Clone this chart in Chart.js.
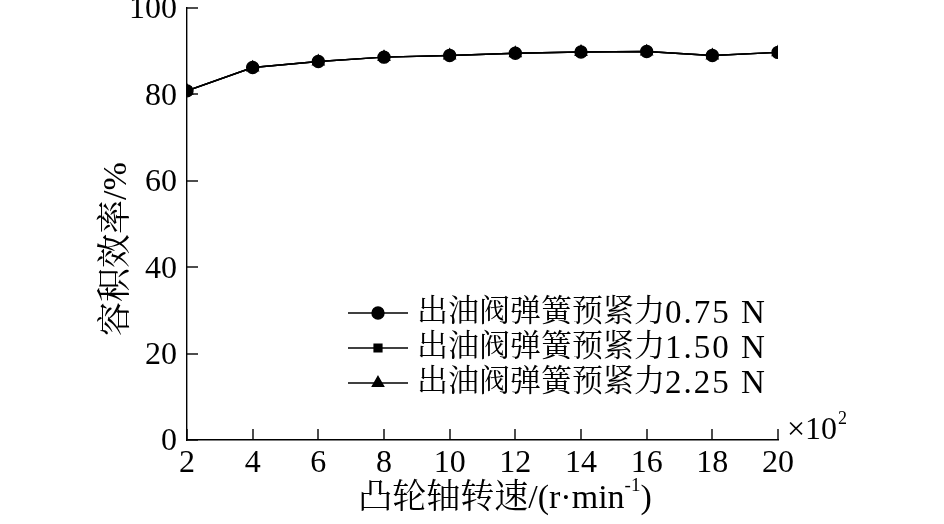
<!DOCTYPE html>
<html>
<head>
<meta charset="utf-8">
<script src="https://cdn.jsdelivr.net/npm/chart.js@4"></script>
<style>
  html, body { margin: 0; padding: 0; background: #fff; }
  #wrap { width: 944px; height: 524px; }
</style>
</head>
<body>
<div id="wrap"><canvas id="myChart" width="944" height="524"></canvas></div>
<script>
const speeds = [2, 4, 6, 8, 10, 12, 14, 16, 18, 20];
const eff075 = [80.8, 86.2, 87.6, 88.6, 89.0, 89.5, 89.8, 89.9, 89.0, 89.7];
const eff150 = [80.8, 86.2, 87.6, 88.6, 89.0, 89.5, 89.8, 89.9, 89.0, 89.7];
const eff225 = [80.8, 86.2, 87.6, 88.6, 89.0, 89.5, 89.8, 89.9, 89.0, 89.7];
const seriesNames = ["出油阀弹簧预紧力0.75 N", "出油阀弹簧预紧力1.50 N", "出油阀弹簧预紧力2.25 N"];
const yTitle = "容积效率/%";
const xTitle = "凸轮轴转速/(r·min";

const serif = '"Liberation Serif", "Noto Serif CJK SC", "Noto Sans CJK SC", serif';

function toPoints(ys) {
    return speeds.map((x, i) => ({ x: x, y: ys[i] }));
}

// inward ticks, axis titles, legend and the x10^2 note
const extras = {
    id: "extras",
    afterDraw(chart) {
        const ctx = chart.ctx;
        const xs = chart.scales.x;
        const ys = chart.scales.y;
        const area = chart.chartArea;
        ctx.save();
        ctx.strokeStyle = "#000";
        ctx.lineWidth = 1.4;
        xs.ticks.forEach(t => {
            const px = Math.round(xs.getPixelForValue(t.value));
            ctx.beginPath();
            ctx.moveTo(px, area.bottom);
            ctx.lineTo(px, area.bottom - 11);
            ctx.stroke();
        });
        ys.ticks.forEach(t => {
            const py = Math.round(ys.getPixelForValue(t.value));
            ctx.beginPath();
            ctx.moveTo(area.left, py);
            ctx.lineTo(area.left + 11, py);
            ctx.stroke();
        });

        ctx.fillStyle = "#000";
        // y title
        ctx.save();
        ctx.translate(117, 249);
        ctx.rotate(-Math.PI / 2);
        ctx.font = "34px " + serif;
        ctx.textAlign = "center";
        ctx.textBaseline = "middle";
        ctx.fillText(yTitle, 0, 0);
        ctx.restore();

        // x title with superscript
        ctx.font = "34px " + serif;
        ctx.textBaseline = "middle";
        ctx.textAlign = "left";
        const w1 = ctx.measureText(xTitle).width;
        ctx.font = "19px " + serif;
        const w2 = ctx.measureText("-1").width;
        ctx.font = "34px " + serif;
        const w3 = ctx.measureText(")").width;
        const sx = 505 - (w1 + w2 + w3) / 2;
        ctx.fillText(xTitle, sx, 499);
        ctx.font = "19px " + serif;
        ctx.fillText("-1", sx + w1, 486);
        ctx.font = "34px " + serif;
        ctx.fillText(")", sx + w1 + w2, 499);

        // x10^2
        ctx.textBaseline = "alphabetic";
        ctx.font = "32px " + serif;
        ctx.fillText("×10", 787, 439);
        const wx = ctx.measureText("×10").width;
        ctx.font = "18px " + serif;
        ctx.fillText("2", 787 + wx + 1, 424);

        // legend
        const rows = [313, 348, 383];
        chart.data.datasets.forEach((ds, i) => {
            const y = rows[i];
            ctx.strokeStyle = "#000";
            ctx.lineWidth = 1.4;
            ctx.beginPath();
            ctx.moveTo(348, y);
            ctx.lineTo(408, y);
            ctx.stroke();
            Chart.helpers.drawPoint(ctx, {
                pointStyle: ds.pointStyle,
                radius: ds.pointRadius,
                rotation: 0,
                borderWidth: 1
            }, 378, y);
            ctx.fillStyle = "#000";
            ctx.fill();
            const cut = ds.label.search(/\d/);
            const head = ds.label.slice(0, cut);
            const tail = ds.label.slice(cut);
            ctx.textAlign = "left";
            ctx.textBaseline = "middle";
            ctx.font = "31px " + serif;
            ctx.fillText(head, 417, y);
            const hw = ctx.measureText(head).width;
            ctx.font = "33px " + serif;
            ctx.letterSpacing = "2px";
            ctx.fillText(tail, 417 + hw, y + 1);
            ctx.letterSpacing = "0px";
        });
        ctx.restore();
    }
};

new Chart("myChart", {
    type: "line",
    data: {
        datasets: [{
            label: seriesNames[0],
            data: toPoints(eff075),
            borderColor: "#000",
            backgroundColor: "#000",
            borderWidth: 1.4,
            pointStyle: "circle",
            pointRadius: 6,
            fill: false
        }, {
            label: seriesNames[1],
            data: toPoints(eff150),
            borderColor: "#000",
            backgroundColor: "#000",
            borderWidth: 1.4,
            pointStyle: "rect",
            pointRadius: 5.5,
            fill: false
        }, {
            label: seriesNames[2],
            data: toPoints(eff225),
            borderColor: "#000",
            backgroundColor: "#000",
            borderWidth: 1.4,
            pointStyle: "triangle",
            pointRadius: 6.5,
            fill: false
        }]
    },
    options: {
        responsive: false,
        animation: false,
        devicePixelRatio: 1,
        layout: { padding: { left: 0, right: 166, top: 4, bottom: 0 } },
        plugins: {
            legend: { display: false },
            tooltip: { enabled: false }
        },
        scales: {
            x: {
                type: "linear",
                min: 2,
                max: 20,
                ticks: {
                    stepSize: 2,
                    color: "#000",
                    padding: 4,
                    font: { family: serif, size: 32 }
                },
                grid: { display: false, drawTicks: false },
                border: { display: true, color: "#000", width: 1.4 },
                afterFit(scale) {
                    scale.height = 84;
                    scale.paddingLeft = 0;
                    scale.paddingRight = 0;
                }
            },
            y: {
                min: 0,
                max: 100,
                ticks: {
                    stepSize: 20,
                    color: "#000",
                    padding: 10,
                    labelOffset: 2,
                    font: { family: serif, size: 32 }
                },
                grid: { display: false, drawTicks: false },
                border: { display: true, color: "#000", width: 1.4 },
                afterFit(scale) {
                    scale.width = 187;
                    scale.paddingTop = 0;
                    scale.paddingBottom = 0;
                }
            }
        }
    },
    plugins: [extras]
});
</script>
</body>
</html>
